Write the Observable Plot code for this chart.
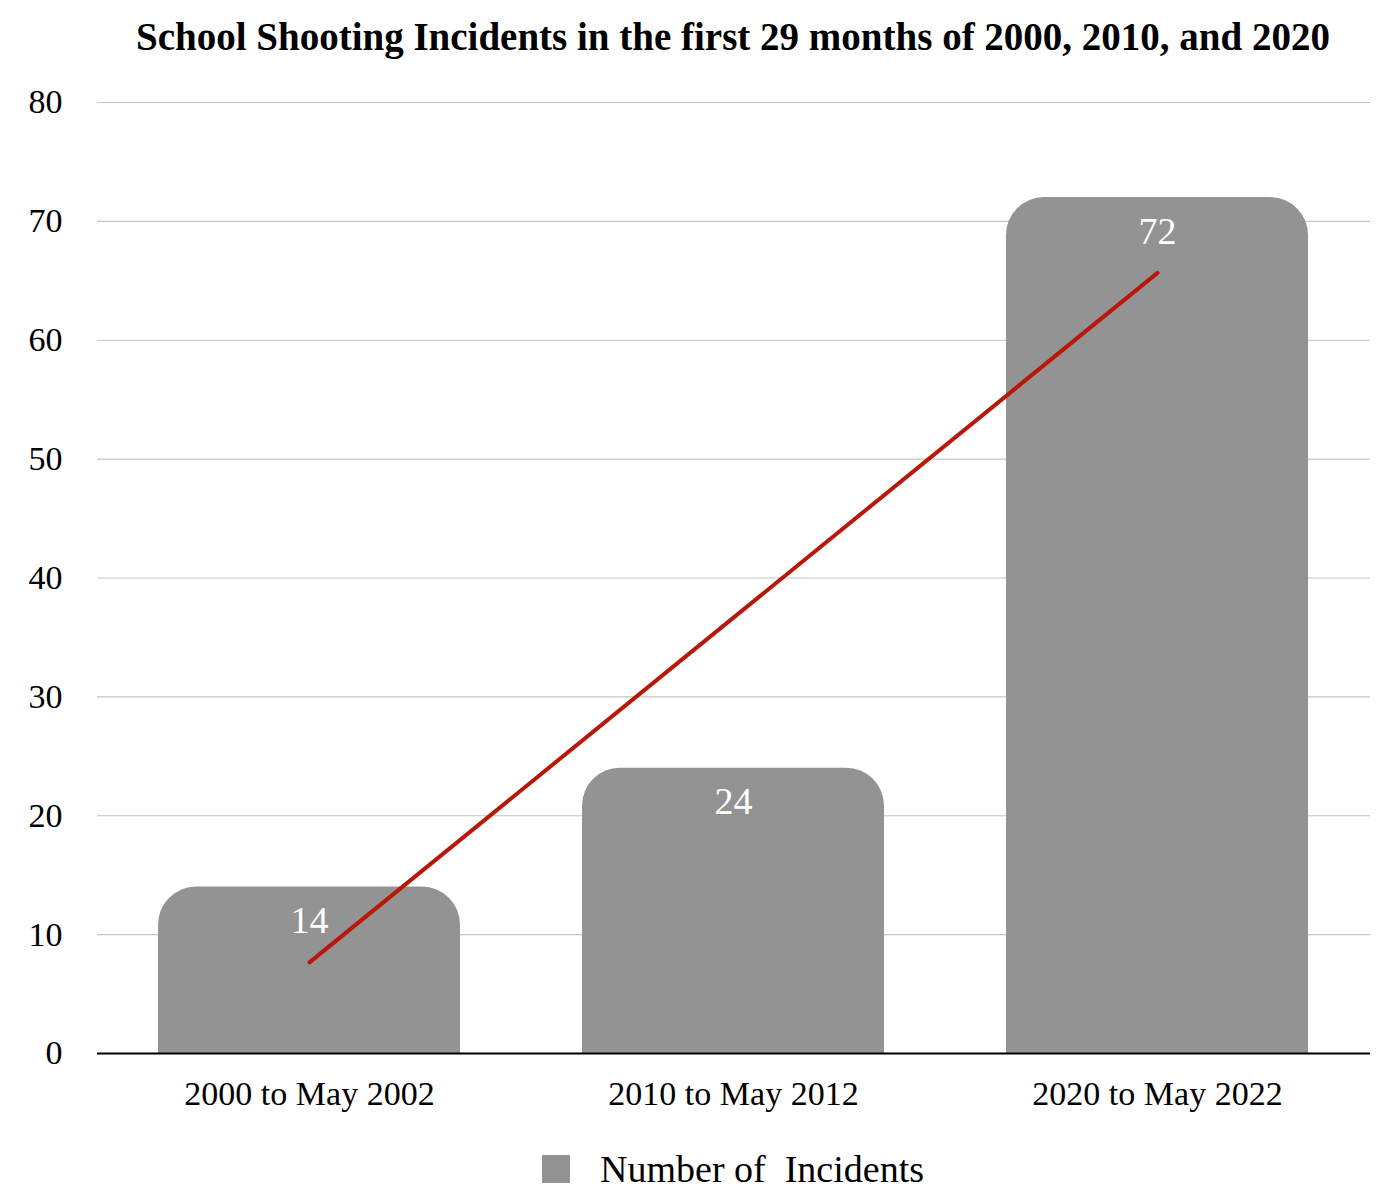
<!DOCTYPE html>
<html>
<head>
<meta charset="utf-8">
<script src="https://cdn.jsdelivr.net/npm/d3@7"></script>
<script src="https://cdn.jsdelivr.net/npm/@observablehq/plot@0.6"></script>
<style>
  html, body { margin: 0; padding: 0; background: #fff; }
  body { width: 1376px; height: 1204px; overflow: hidden; font-family: "Liberation Serif", "DejaVu Serif", serif; }
  #title { height: 74px; line-height: 74px; text-align: center; font-weight: bold; font-size: 39px; color: #000; padding-left: 90px; white-space: nowrap; }
  #chart svg { display: block; }
  #legend { padding-top: 36px; height: 30px; display: flex; align-items: center; justify-content: center; font-size: 38px; color: #000; padding-left: 90px;}
  #legend .sw { width: 28px; height: 28px; background: #939393; margin-right: 30px; }
</style>
</head>
<body>
<div id="title">School Shooting Incidents in the first 29 months of 2000, 2010, and 2020</div>
<div id="chart"></div>
<div id="legend"><span class="sw"></span><span>Number of&nbsp; Incidents</span></div>
<script>
const categories = ["2000 to May 2002", "2010 to May 2012", "2020 to May 2022"];
const incidents = [14, 24, 72];
const yTicks = [0, 10, 20, 30, 40, 50, 60, 70, 80];

const data = categories.map((c, i) => ({category: c, value: incidents[i], idx: i}));

// least-squares trend line over the category index
const mx = d3.mean(data, d => d.idx);
const my = d3.mean(data, d => d.value);
const slope = d3.sum(data, d => (d.idx - mx) * (d.value - my)) / d3.sum(data, d => (d.idx - mx) ** 2);
const intercept = my - slope * mx;
const trend = data.map(d => ({category: d.category, value: intercept + slope * d.idx}));

const barColor = "#939393";

const chart = Plot.plot({
  width: 1376,
  height: 1044,
  marginTop: 28,
  marginLeft: 97,
  marginRight: 6,
  marginBottom: 65,
  style: {fontFamily: "'Liberation Serif', 'DejaVu Serif', serif", color: "#000", background: "#fff"},
  x: {domain: categories, paddingInner: 0.287, paddingOuter: 0.1435, label: null},
  y: {domain: [0, 80], ticks: yTicks, label: null},
  marks: [
    Plot.gridY(yTicks, {stroke: "#c4c4c4", strokeOpacity: 1, strokeWidth: 1.2}),
    Plot.barY(data, {x: "category", y: "value", fill: barColor, rx: 38, ry: 38}),
    Plot.barY(data, {x: "category", y1: 0, y2: d => d.value / 2, fill: barColor}),
    Plot.ruleY([0], {stroke: "#000", strokeWidth: 2}),
    Plot.line(trend, {x: "category", y: "value", stroke: "#b8170a", strokeWidth: 4, style: "filter: drop-shadow(1px 1px 1px rgba(0,0,0,0.25))"}),
    Plot.text(data, {x: "category", y: "value", text: d => String(d.value), dy: 34, fill: "#fff", fontSize: 38, lineAnchor: "middle"}),
    Plot.axisY(yTicks, {tickSize: 0, tickPadding: 35, fontSize: 34, label: null}),
    Plot.axisX({tickSize: 0, tickPadding: 27, fontSize: 34, label: null})
  ]
});
document.getElementById("chart").appendChild(chart);
</script>
</body>
</html>
